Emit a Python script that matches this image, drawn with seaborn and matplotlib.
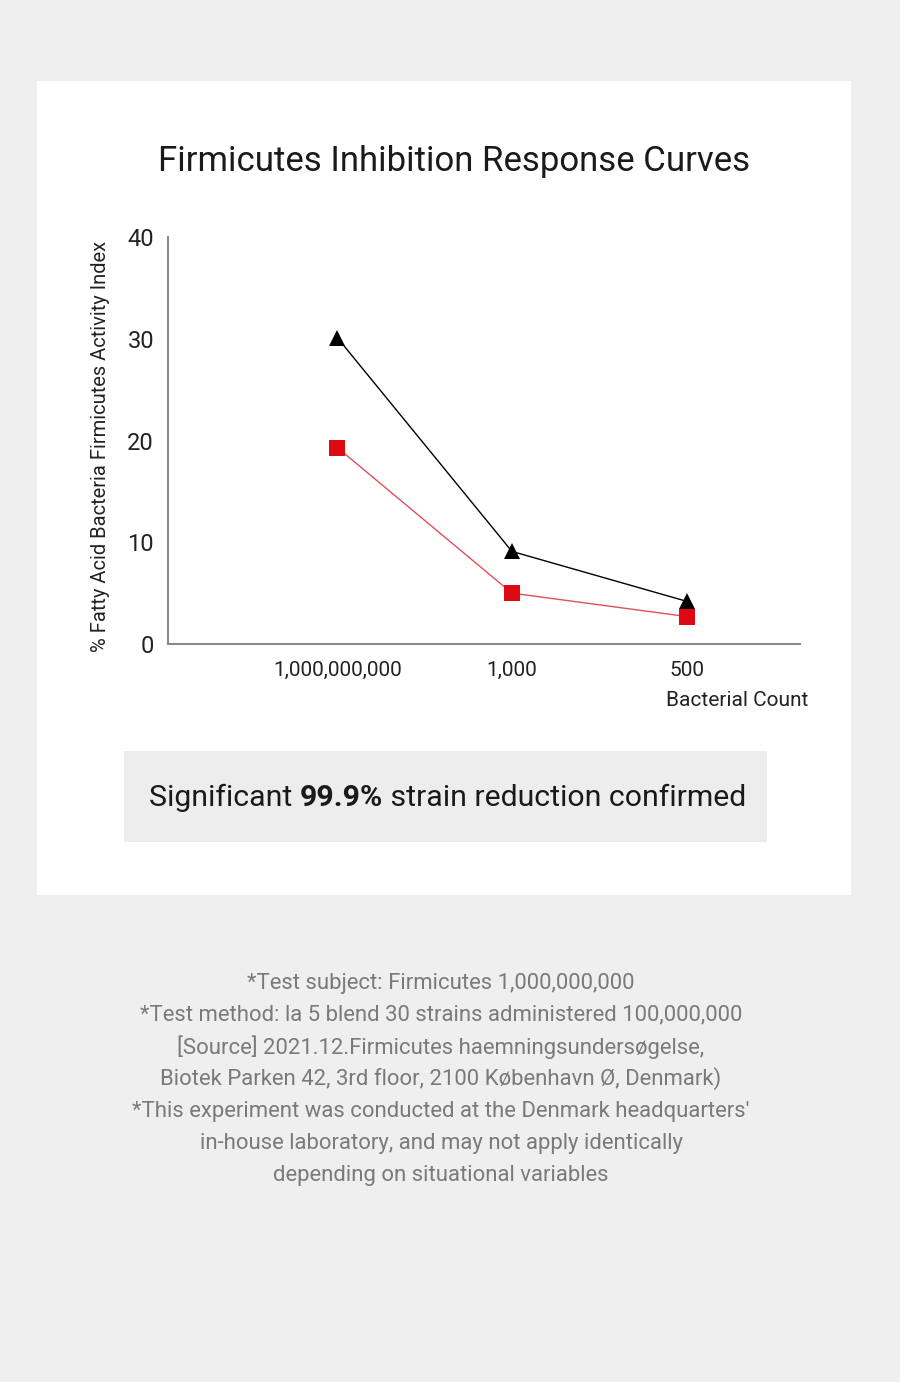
import pandas as pd
import seaborn as sns
import matplotlib.pyplot as plt
from matplotlib.patches import Rectangle
from matplotlib import font_manager

# data
counts = ['1,000,000,000', '1,000', '500']
control_values = [30.1, 9.1, 4.2]
treated_values = [19.3, 5.0, 2.7]
y_ticks = [0, 10, 20, 30, 40]

installed = {f.name for f in font_manager.fontManager.ttflist}
narrow = 'Liberation Sans Narrow' if 'Liberation Sans Narrow' in installed else 'Roboto'

sns.set_theme(style='white')
plt.rcParams['font.family'] = [narrow, 'DejaVu Sans']

df = pd.DataFrame({
    'pos': list(range(len(counts))) * 2,
    'value': control_values + treated_values,
    'group': ['control'] * len(counts) + ['treated'] * len(counts),
})

W, H = 900, 1382
fig = plt.figure(figsize=(W / 100, H / 100), dpi=100)
fig.patch.set_facecolor('#efefef')

# white card and grey summary box
fig.add_artist(Rectangle((37 / W, 1 - 895 / H), 814 / W, 814 / H,
                         transform=fig.transFigure, facecolor='white', edgecolor='none', zorder=0))
fig.add_artist(Rectangle((124 / W, 1 - 842 / H), 643 / W, 91 / H,
                         transform=fig.transFigure, facecolor='#ededed', edgecolor='none', zorder=0))

ax = fig.add_axes([168 / W, 1 - 644 / H, 632 / W, 407 / H])
ax.set_facecolor('none')
sns.lineplot(data=df, x='pos', y='value', hue='group', style='group',
             palette={'control': 'black', 'treated': '#dd0a14'},
             markers={'control': '^', 'treated': 's'}, dashes=False,
             markersize=11, markeredgewidth=0, linewidth=1.0, legend=False, ax=ax)
ax.lines[1].set_color('#e0505a')
ax.lines[1].set_markerfacecolor('#dd0a14')

ax.set_xlim(-0.97, 2.65)
ax.set_ylim(0, 40)
ax.set_yticks(y_ticks)
ax.set_yticklabels([str(t) for t in y_ticks], fontsize=17, color='#222222')
ax.set_xticks(range(len(counts)))
ax.set_xticklabels(counts, fontsize=15, color='#222222')
ax.tick_params(axis='x', pad=12, length=0)
ax.tick_params(axis='y', pad=10, length=0)
for s in ['top', 'right']:
    ax.spines[s].set_visible(False)
for s in ['left', 'bottom']:
    ax.spines[s].set_color('#8a8a8a')
    ax.spines[s].set_linewidth(1.5)
ax.set_xlabel('')
ax.set_ylabel('% Fatty Acid Bacteria Firmicutes Activity Index', fontsize=14.5, color='#222222')
ax.yaxis.set_label_coords(-0.092, 0.485)

fig.text(808 / W, 1 - 700 / H, 'Bacterial Count', ha='right', va='center', fontsize=15, color='#222222')

fig.text(454 / W, 1 - 161 / H, 'Firmicutes Inhibition Response Curves', ha='center', va='center',
         fontsize=25, color='#1a1a1a')

# summary sentence with bold middle part
parts = [('Significant ', 'normal'), ('99.9%', 'bold'), (' strain reduction confirmed', 'normal')]
fig.canvas.draw()
renderer = fig.canvas.get_renderer()
texts = []
for s, w in parts:
    t = fig.text(0, 1 - 798 / H, s, ha='left', va='center', fontsize=21.8,
                 fontweight=w, color='#1a1a1a', family=['Roboto', 'DejaVu Sans'])
    texts.append(t)
widths = [t.get_window_extent(renderer).width for t in texts]
x = 448 - sum(widths) / 2
for t, wd in zip(texts, widths):
    t.set_x(x / W)
    x += wd

footer = [
    '*Test subject: Firmicutes 1,000,000,000',
    '*Test method: la 5 blend 30 strains administered 100,000,000',
    '[Source] 2021.12.Firmicutes haemningsundersøgelse,',
    'Biotek Parken 42, 3rd floor, 2100 København Ø, Denmark)',
    "*This experiment was conducted at the Denmark headquarters'",
    'in-house laboratory, and may not apply identically',
    'depending on situational variables',
]
for i, line in enumerate(footer):
    fig.text(441 / W, 1 - (983 + 32 * i) / H, line, ha='center', va='center', fontsize=15.9,
             color='#7a7a7a', family=['Roboto', 'DejaVu Sans'])

fig.savefig('out.png', dpi=100, facecolor=fig.get_facecolor())
